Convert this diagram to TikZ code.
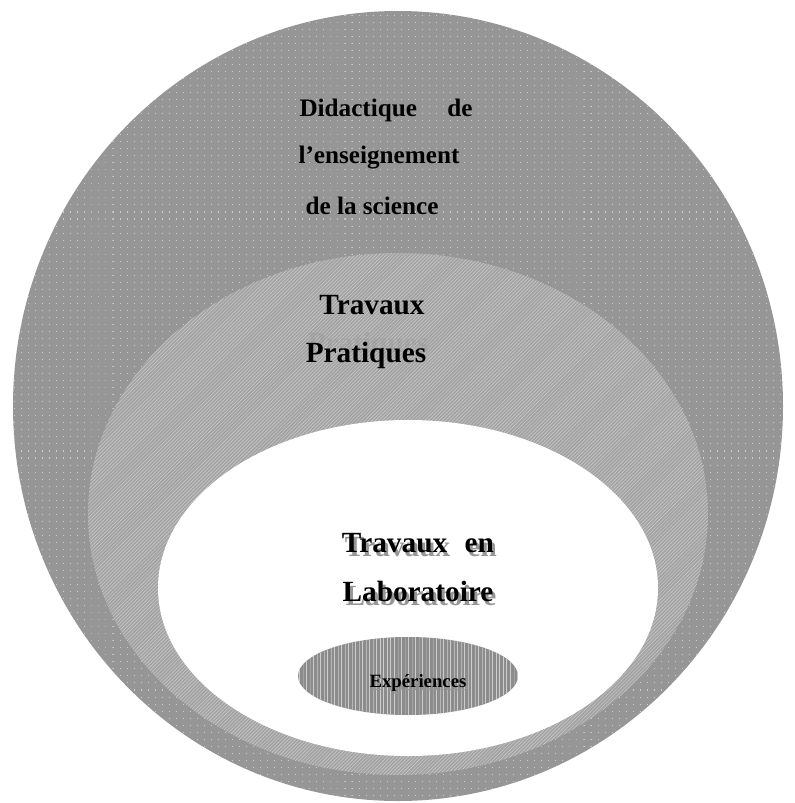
\documentclass[tikz,border=0pt]{standalone}
\usepackage{fontspec}
\setmainfont{Liberation Serif}
\usetikzlibrary{patterns,patterns.meta}

\definecolor{outergray}{RGB}{150,150,150}
\definecolor{dotgray}{RGB}{205,205,205}
\definecolor{midgray}{RGB}{163,163,163}
\definecolor{hatchgray}{RGB}{205,205,205}
\definecolor{expgray}{RGB}{140,140,140}
\definecolor{shadowgray}{RGB}{150,150,150}

\tikzdeclarepattern{
  name=sparsedots,
  type=uncolored,
  bottom left={(-.1pt,-.1pt)},
  top right={(6.1pt,6.1pt)},
  tile size={(6pt,6pt)},
  code={\fill (0,0) rectangle (.9pt,.9pt);}
}

\tikzset{
  bigtext/.style={font=\fontsize{21.5}{24}\selectfont\bfseries,inner sep=0pt},
  tptext/.style={font=\fontsize{25}{28}\selectfont\bfseries,inner sep=0pt},
  shadowtext/.style={tptext,text=shadowgray},
  exptext/.style={font=\fontsize{16}{18}\selectfont\bfseries,inner sep=0pt}
}

\begin{document}
\begin{tikzpicture}[x=0.03cm,y=-0.03cm]
    \useasboundingbox (0,0) rectangle (795,803);
    % outer circle
    \fill[outergray] (398,406) ellipse [x radius=385,y radius=395];
    \fill[pattern=sparsedots,pattern color=dotgray] (398,406) ellipse [x radius=385,y radius=395];
    % travaux pratiques
    \fill[midgray] (398,514) ellipse [x radius=310,y radius=261];
    \fill[pattern=north east lines,pattern color=hatchgray] (398,514) ellipse [x radius=310,y radius=261];
    % laboratoire
    \fill[white] (408,588) ellipse [x radius=250,y radius=168];
    % experiences
    \fill[expgray] (408,676) ellipse [x radius=110,y radius=39];
    \fill[pattern=vertical lines,pattern color=dotgray] (408,676) ellipse [x radius=110,y radius=39];

    \node[bigtext] (did1) at (386,110) {Didactique\hspace{1.2em}de};
    \node[bigtext] (did2) at (379,158) {l’enseignement};
    \node[bigtext] (did3) at (372,206) {de la science};

    \node[shadowtext,opacity=.35] (tp2s) at (368,345) {Pratiques};
    \node[tptext] (tp1) at (372,305) {Travaux};
    \node[tptext] (tp2) at (366,355) {Pratiques};

    \node[shadowtext] (lab1s) at (421,547) {Travaux\hspace{.6em}en};
    \node[shadowtext] (lab2s) at (421,595) {Laboratoire};
    \node[tptext] (lab1) at (418,543) {Travaux\hspace{.6em}en};
    \node[tptext] (lab2) at (418,591) {Laboratoire};

    \node[exptext,text=shadowgray] (exps) at (420,686) {Expériences};
    \node[exptext] (exp) at (418,683) {Expériences};
\end{tikzpicture}
\end{document}
